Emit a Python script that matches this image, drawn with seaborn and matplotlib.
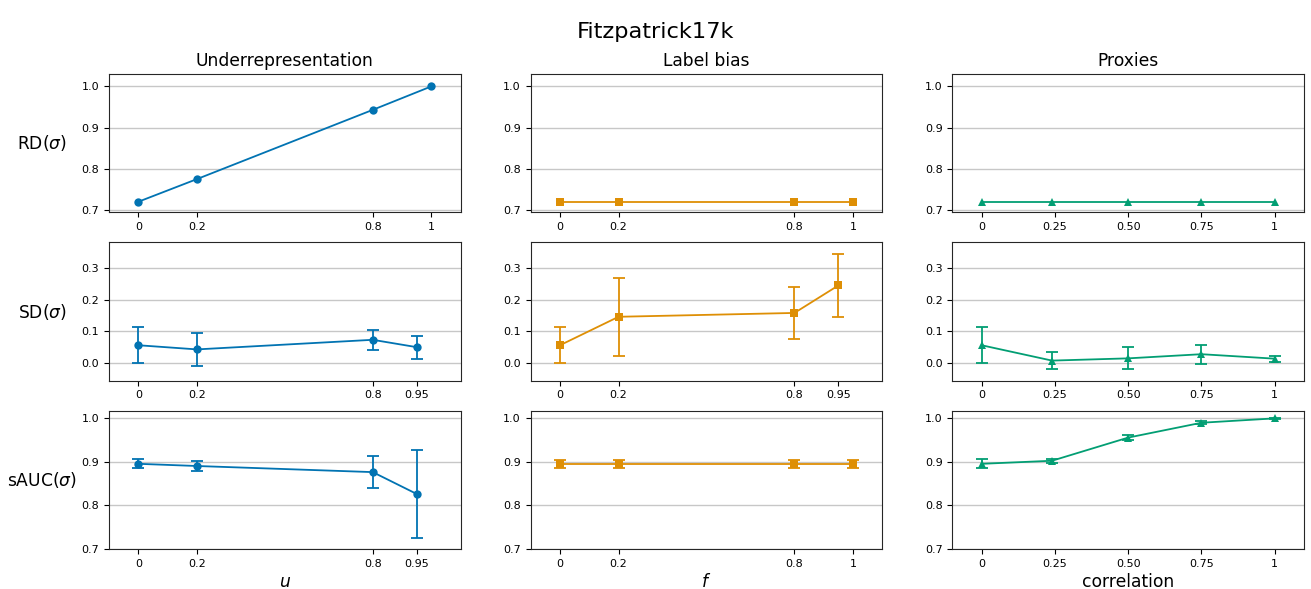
import matplotlib
matplotlib.use("Agg")
import matplotlib.pyplot as plt
import seaborn as sns
import numpy as np

# ---------------- data ----------------
col_titles = ["Underrepresentation", "Label bias", "Proxies"]
row_labels = [r"RD($\sigma$)", r"SD($\sigma$)", r"sAUC($\sigma$)"]
x_labels = [r"$u$", r"$f$", "correlation"]

# Underrepresentation
u_rd_x = [0, 0.2, 0.8, 1]
u_rd = [0.72, 0.775, 0.943, 1.0]
u_sd_x = [0, 0.2, 0.8, 0.95]
u_sd = [0.057, 0.044, 0.074, 0.051]
u_sd_err = [0.057, 0.052, 0.031, 0.036]
u_auc_x = [0, 0.2, 0.8, 0.95]
u_auc = [0.895, 0.890, 0.876, 0.826]
u_auc_err = [0.010, 0.012, 0.037, 0.100]

# Label bias
f_rd_x = [0, 0.2, 0.8, 1]
f_rd = [0.72, 0.72, 0.72, 0.72]
f_sd_x = [0, 0.2, 0.8, 0.95]
f_sd = [0.057, 0.146, 0.158, 0.244]
f_sd_err = [0.057, 0.122, 0.082, 0.098]
f_auc_x = [0, 0.2, 0.8, 1]
f_auc = [0.895, 0.895, 0.895, 0.895]
f_auc_err = [0.009, 0.009, 0.009, 0.009]

# Proxies
c_x = [0, 0.24, 0.5, 0.75, 1]
c_rd = [0.72, 0.72, 0.72, 0.72, 0.72]
c_sd = [0.057, 0.009, 0.016, 0.029, 0.015]
c_sd_err = [0.057, 0.026, 0.034, 0.030, 0.009]
c_auc = [0.895, 0.902, 0.955, 0.989, 0.999]
c_auc_err = [0.010, 0.005, 0.005, 0.003, 0.002]

ticks_a = [0, 0.2, 0.8, 1]
ticklabels_a = ["0", "0.2", "0.8", "1"]
ticks_b = [0, 0.2, 0.8, 0.95]
ticklabels_b = ["0", "0.2", "0.8", "0.95"]
ticks_c = [0, 0.25, 0.5, 0.75, 1]
ticklabels_c = ["0", "0.25", "0.50", "0.75", "1"]

row_ylims = [(0.694, 1.03), (-0.054, 0.379), (0.70, 1.017)]
row_yticks = [[0.7, 0.8, 0.9, 1.0], [0.0, 0.1, 0.2, 0.3], [0.7, 0.8, 0.9, 1.0]]

pal = sns.color_palette("colorblind")
colors = [pal[0], pal[1], pal[2]]
markers = ["o", "s", "^"]

panels = [
    [(u_rd_x, u_rd, None, ticks_a, ticklabels_a),
     (f_rd_x, f_rd, None, ticks_a, ticklabels_a),
     (c_x, c_rd, None, ticks_c, ticklabels_c)],
    [(u_sd_x, u_sd, u_sd_err, ticks_b, ticklabels_b),
     (f_sd_x, f_sd, f_sd_err, ticks_b, ticklabels_b),
     (c_x, c_sd, c_sd_err, ticks_c, ticklabels_c)],
    [(u_auc_x, u_auc, u_auc_err, ticks_b, ticklabels_b),
     (f_auc_x, f_auc, f_auc_err, ticks_a, ticklabels_a),
     (c_x, c_auc, c_auc_err, ticks_c, ticklabels_c)],
]

fig, axes = plt.subplots(3, 3, figsize=(13.11, 5.89), dpi=100)
fig.subplots_adjust(left=109 / 1311, right=1304 / 1311, top=1 - 74 / 589,
                    bottom=1 - 549 / 589, wspace=0.199, hspace=0.215)

for r in range(3):
    for c in range(3):
        ax = axes[r, c]
        x, y, err, ticks, tlabels = panels[r][c]
        col = colors[c]
        ax.grid(axis="y", color="0.78", lw=1.0, zorder=0)
        ax.set_axisbelow(True)
        sns.lineplot(x=x, y=y, ax=ax, color=col, marker=markers[c],
                     markersize=6, markeredgecolor=col, markeredgewidth=0,
                     linewidth=1.3, zorder=3)
        if err is not None:
            ax.errorbar(x, y, yerr=err, fmt="none", ecolor=col,
                        elinewidth=1.3, capsize=4, capthick=1.3, zorder=3)
        ax.set_xlim(-0.1, 1.1)
        ax.set_ylim(*row_ylims[r])
        ax.set_yticks(row_yticks[r])
        ax.set_xticks(ticks)
        ax.set_xticklabels(tlabels)
        ax.tick_params(labelsize=8)
        for s in ax.spines.values():
            s.set_color("0.15")
        ax.set_xlabel("")
        ax.set_ylabel("")
        if r == 0:
            ax.set_title(col_titles[c], fontsize=12.3)
        if r == 2:
            ax.set_xlabel(x_labels[c], fontsize=12.3, labelpad=3)
        if c == 0:
            ax.set_ylabel(row_labels[r], fontsize=12.3, rotation=0,
                          ha="center", va="center")
            ax.yaxis.set_label_coords(-0.19, 0.5)

fig.suptitle("Fitzpatrick17k", fontsize=16.2, y=0.963)
fig.savefig("out.png", dpi=100)
